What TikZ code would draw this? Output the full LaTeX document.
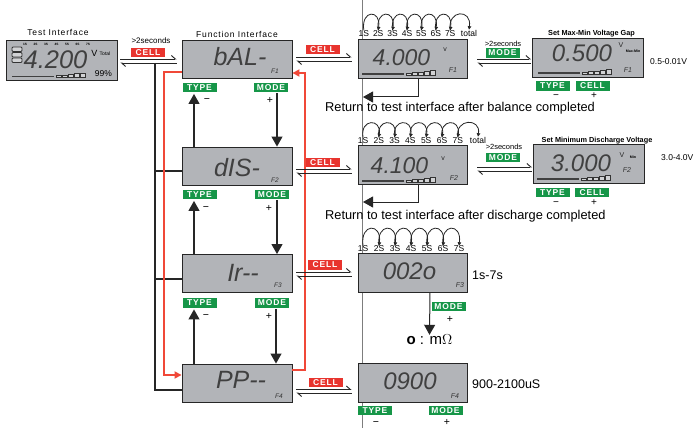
\documentclass[tikz,border=0pt]{standalone}
\usepackage{fontspec}
\setmainfont{Liberation Sans}
\newfontfamily\spaced[LetterSpace=10]{Liberation Sans}
\usetikzlibrary{arrows.meta,calc}
\definecolor{lcdgray}{RGB}{178,180,184}
\definecolor{cellred}{RGB}{232,52,46}
\definecolor{tagGreen}{RGB}{22,150,72}
\definecolor{redline}{RGB}{240,72,56}
\definecolor{foldgray}{RGB}{125,125,125}
\tikzset{
  lcd/.style={draw=black!85, line width=0.9pt, fill=lcdgray, inner sep=0pt},
  fbox/.style={lcd, minimum width=110pt, minimum height=38pt},
  mbox/.style={lcd, minimum width=109pt, minimum height=39pt},
  rbox/.style={lcd, minimum width=111pt, minimum height=39pt},
  redtag/.style={fill=cellred, text=white, font=\spaced\bfseries\fontsize{8.5}{8.5}\selectfont, inner sep=0pt, minimum width=34pt, minimum height=9.5pt},
  greentag/.style={redtag, fill=tagGreen},
  digits/.style={font=\itshape\fontsize{25}{25}\selectfont, text=black!75, inner sep=0pt},
  flabel/.style={font=\itshape\fontsize{6.5}{6.5}\selectfont, inner sep=0pt, text=black!80},
  small/.style={font=\fontsize{7}{7}\selectfont, inner sep=0pt, text=black!85},
  sign/.style={font=\fontsize{10.5}{10.5}\selectfont, inner sep=0pt},
  rsign/.style={font=\fontsize{10}{10}\selectfont, inner sep=0pt},
  cnt/.style={font=\fontsize{8.5}{8.5}\selectfont, inner sep=0pt},
  info/.style={font=\fontsize{8.5}{8.5}\selectfont, inner sep=0pt, anchor=west},
  title/.style={font=\spaced\fontsize{8.5}{8.5}\selectfont, inner sep=0pt},
  settitle/.style={font=\bfseries\fontsize{7.3}{7.3}\selectfont, inner sep=0pt},
  blk/.style={draw=black!85, line width=1.1pt},
  redl/.style={draw=redline, line width=1.7pt},
  bigtip/.style={-{Triangle[length=10pt,width=11pt]}},
  redtip/.style={-{Triangle[length=7pt,width=7pt]}},
  harp/.style={draw=black!85, line width=0.9pt, -{Straight Barb[left,length=4pt,width=7pt]}},
  arc/.style={draw=black!85, line width=0.8pt, -{Triangle[length=3.5pt,width=3.5pt]}},
  bars/.pic={
    \fill[black!75] (0,-0.4) rectangle (42,-1.8);
    \foreach \i/\h in {0/2,1/2.6,2/3.2,3/3.8,4/4.4}
      \draw[black!80, line width=0.5pt, fill=lcdgray!60] ({44+\i*6},0) rectangle ({49+\i*6},-\h);
  }
}
\begin{document}
\begin{tikzpicture}[x=1pt,y=-1pt]
\useasboundingbox (0,0) rectangle (694,428);
\fill[white] (0,0) rectangle (694,428);
% book fold
\draw[foldgray, line width=0.7pt] (362,0) -- (362,428);

% ---------- nodes: boxes ----------
\node[lcd, minimum width=111pt, minimum height=40pt] (test) at (61.5,60) {};
\node[fbox] (f1) at (237,59) {};
\node[fbox] (f2) at (237,166) {};
\node[fbox] (f3) at (237,273.5) {};
\node[fbox] (f4) at (237,383) {};
\node[mbox] (m1) at (412.5,58.5) {};
\node[mbox] (m2) at (412.5,165) {};
\node[mbox] (m3) at (412.5,272.5) {};
\node[mbox] (m4) at (412.5,382.5) {};
\node[rbox] (r1) at (588,57.5) {};
\node[rbox] (r2) at (589,164) {};

% ---------- lines ----------
\coordinate (bjoin) at (155,63);
\draw[blk] (bjoin) -- (155,390) -- (f4.west |- 0,390);
\draw[blk] (155,171) -- (f2.west |- 0,171);
\draw[blk] (155,279) -- (f3.west |- 0,279);
\draw[redl, redtip] (f1.west |- 0,72) -- (164,72) -- (164,375) -- (f4.west |- 0,375);
\draw[redl, redtip] (f4.east |- 0,370) -- (305,370) -- (305,73) -- (f1.east |- 0,73);

% harpoon pairs
\draw[harp, shorten <=3pt, shorten >=5pt] (test.east |- 0,59) -- (f1.west |- 0,59);
\draw[harp, shorten <=5pt, shorten >=3pt] (f1.west |- 0,63) -- (test.east |- 0,63);
\draw[harp, shorten <=4pt, shorten >=6pt] (f1.east |- 0,57) -- (m1.west |- 0,57);
\draw[harp, shorten <=6pt, shorten >=4pt] (m1.west |- 0,61) -- (f1.east |- 0,61);
\draw[harp, shorten <=4pt, shorten >=6pt] (f2.east |- 0,169) -- (m2.west |- 0,169);
\draw[harp, shorten <=6pt, shorten >=4pt] (m2.west |- 0,173) -- (f2.east |- 0,173);
\draw[harp, shorten <=4pt, shorten >=6pt] (f3.east |- 0,272) -- (m3.west |- 0,272);
\draw[harp, shorten <=6pt, shorten >=4pt] (m3.west |- 0,276) -- (f3.east |- 0,276);
\draw[harp, shorten <=4pt, shorten >=6pt] (f4.east |- 0,389.5) -- (m4.west |- 0,389.5);
\draw[harp, shorten <=6pt, shorten >=4pt] (m4.west |- 0,393) -- (f4.east |- 0,393);
\draw[harp, shorten <=10pt, shorten >=1pt] (m1.east |- 0,59) -- (r1.west |- 0,59);
\draw[harp, shorten <=1pt, shorten >=10pt] (r1.west |- 0,63) -- (m1.east |- 0,63);
\draw[harp, shorten <=10pt, shorten >=1pt] (m2.east |- 0,167) -- (r2.west |- 0,167);
\draw[harp, shorten <=1pt, shorten >=10pt] (r2.west |- 0,171) -- (m2.east |- 0,171);

% ---------- test interface ----------
\node[title] (ttest) at (58,32.5) {Test Interface};
\node[digits, font=\itshape\fontsize{25.5}{25.5}\selectfont] (testd) at (55.5,59.5) {4.200};
\node[font=\fontsize{9}{9}\selectfont, inner sep=0pt] (tv) at (94.5,53) {V};
\node[font=\fontsize{5}{5}\selectfont, inner sep=0pt] (ttot) at (105,53.5) {Total};
\node[font=\fontsize{8.5}{8.5}\selectfont, inner sep=0pt] (tpct) at (103.5,74) {99\%};
\foreach \y in {47,52.5,58}
  \draw[black!80, line width=0.8pt, fill=lcdgray!60, rounded corners=1pt] (12,\y) rectangle (22,\y+4.5);
\foreach \n in {1,...,7}
  \node[font=\bfseries\fontsize{3.2}{3.2}\selectfont, inner sep=0pt] at ({25+(\n-1)*10.5},44.5) {\n S};
\pic at (12,77.5) {bars};
\node[font=\fontsize{8}{8}\selectfont, inner sep=0pt] (sec1) at (151,41) {>2seconds};
\node[redtag] (cell0) at (148,52.5) {CELL};

% ---------- function interface ----------
\node[title] (tfunc) at (237,34) {Function Interface};
\node[digits] (d1) at (240,57) {bAL-};
\node[flabel] (F1) at (275,71) {F1};
\node[digits] (d2) at (237,168) {dIS-};
\node[flabel] (F2) at (275,180) {F2};
\node[digits] (d3) at (243,272.5) {Ir-{}-};
\node[digits] (d4) at (241,380) {PP-{}-};
\node[flabel] (F3) at (278,285) {F3};
\node[flabel] (F4) at (279,396) {F4};

\node[greentag] (type1) at (199.5,87.5) {TYPE};
\node[greentag] (mode1) at (271,87.5) {MODE};
\node[greentag] (type2) at (199.5,194.5) {TYPE};
\node[greentag] (mode2) at (272,194.5) {MODE};
\node[greentag] (type3) at (199.5,303) {TYPE};
\node[greentag] (mode3) at (272,303) {MODE};
\node[sign] (mi1) at (207,100.5) {−};
\node[sign] (pl1) at (270,100.5) {+};
\node[sign] (mi2) at (206,209) {−};
\node[sign] (pl2) at (269,208.5) {+};
\node[sign] (mi3) at (206,317) {−};
\node[sign] (pl3) at (269,316.5) {+};

\draw[blk, bigtip, shorten >=1.5pt] (f2.north -| 194,0) -- (type1.south -| 194,0);
\draw[blk, bigtip, shorten <=1pt] (mode1.south -| 277,0) -- (f2.north -| 277,0);
\draw[blk, bigtip, shorten >=1.5pt] (f3.north -| 194,0) -- (type2.south -| 194,0);
\draw[blk, bigtip, shorten <=1pt] (mode2.south -| 277,0) -- (f3.north -| 277,0);
\draw[blk, bigtip, shorten >=1.5pt] (f4.north -| 194,0) -- (type3.south -| 194,0);
\draw[blk, bigtip, shorten <=1pt] (mode3.south -| 276,0) -- (f4.north -| 276,0);

\node[redtag] (cell1) at (322.5,49.5) {CELL};
\node[redtag] (cell2) at (322.5,162.5) {CELL};
\node[redtag] (cell3) at (325,265) {CELL};
\node[redtag] (cell4) at (325.5,382.5) {CELL};

% ---------- middle column ----------
\node[digits, font=\itshape\fontsize{23}{23}\selectfont] (md1) at (401.5,57.5) {4.000};
\node[small] (mv1) at (445,50) {v};
\node[flabel, font=\itshape\fontsize{7}{7}\selectfont] (mF1) at (453,70) {F1};
\pic at (362,75) {bars};
\node[digits, font=\itshape\fontsize{23}{23}\selectfont] (md2) at (399.5,166) {4.100};
\node[small] (mv2) at (443,159) {v};
\node[flabel, font=\itshape\fontsize{7}{7}\selectfont] (mF2) at (454,178) {F2};
\pic at (362,182) {bars};
\node[digits, font=\itshape\fontsize{24}{24}\selectfont] (md3) at (409.5,271.5) {002o};
\node[flabel, font=\itshape\fontsize{7}{7}\selectfont] (mF3) at (460,285) {F3};
\node[digits, font=\itshape\fontsize{24}{24}\selectfont] (md4) at (410,381.5) {0900};
\node[flabel, font=\itshape\fontsize{7}{7}\selectfont] (mF4) at (455,396) {F4};

% counters row 1
\foreach \n in {1,...,7}
  \node[cnt] (a\n) at ({363.8+(\n-1)*14.4},33.5) {\n S};
\node[cnt] (a8) at (469,33) {total};
\foreach \n [count=\k from 2] in {1,...,7}
  \draw[arc] (a\n.north) .. controls +(-3,-21) and +(3,-21) .. (a\k.north);
% counters row 2
\foreach \n in {1,...,7}
  \node[cnt] (b\n) at ({363+(\n-1)*15.8},140.5) {\n S};
\node[cnt] (b8) at (478,140) {total};
\foreach \n [count=\k from 2] in {1,...,7}
  \draw[arc] (b\n.north) .. controls +(-3,-19) and +(3,-19) .. (b\k.north);
% counters row 3
\foreach \n in {1,...,7}
  \node[cnt] (c\n) at ({363+(\n-1)*16},249) {\n S};
\foreach \n [count=\k from 2] in {1,...,6}
  \draw[arc] (c\n.north) .. controls +(-3,-23) and +(3,-23) .. (c\k.north);

% return arrows
\coordinate (ret1) at (363,97);
\coordinate (ret2) at (363,202);
\draw[blk, line width=1pt, bigtip] (m1.south -| 418,0) -- (418,97) -- (ret1);
\draw[blk, line width=1pt, bigtip] (m2.south -| 418,0) -- (418,202) -- (ret2);
\node[font=\fontsize{12.8}{12.8}\selectfont, inner sep=0pt, anchor=west] (rt1) at (325,108.5) {Return to test interface after balance completed};
\node[font=\fontsize{12.8}{12.8}\selectfont, inner sep=0pt, anchor=west] (rt2) at (325,216) {Return to test interface after discharge completed};

% IR row extras
\node[font=\fontsize{12.5}{12.5}\selectfont, inner sep=0pt, anchor=west] (rng3) at (472,275) {1s-7s};
\node[greentag] (mode4) at (448.5,306.5) {MODE};
\node[sign] (pl4) at (450,319.5) {+};
\node[font=\fontsize{15}{15}\selectfont, inner sep=0pt] (ohm) at (429.5,340) {\textbf{o} : m$\Omega$};
\draw[blk, line width=1pt, bigtip] (m3.south -| 430,0) -- (ohm.north);

% PP row extras
\node[font=\fontsize{12.5}{12.5}\selectfont, inner sep=0pt, anchor=west] (rng4) at (472,384) {900-2100uS};
\node[greentag] (type4) at (375,410.5) {TYPE};
\node[greentag] (mode5) at (445.5,410.5) {MODE};
\node[sign] (mi4) at (376,423.5) {−};
\node[sign] (pl5) at (447,422.5) {+};

% ---------- right column ----------
\node[font=\fontsize{7.5}{7.5}\selectfont, inner sep=0pt] (sec2) at (503,44) {>2seconds};
\node[greentag] (mode6) at (502.5,53) {MODE};
\node[font=\fontsize{7.5}{7.5}\selectfont, inner sep=0pt] (sec3) at (504,147) {>2seconds};
\node[greentag] (mode7) at (503,157.5) {MODE};

\node[settitle] (st1) at (591.5,34) {Set Max-Min Voltage Gap};
\node[digits, font=\itshape\fontsize{24}{24}\selectfont] (rd1) at (582,53.5) {0.500};
\node[small] (rv1) at (621,45) {V};
\node[font=\bfseries\fontsize{3.6}{3.6}\selectfont, inner sep=0pt] (rmm) at (633,51) {Max-Min};
\node[flabel, font=\itshape\fontsize{7}{7}\selectfont] (rF1) at (628,70.5) {F1};
\pic at (538,74) {bars};
\node[info] (rng1) at (650,62) {0.5-0.01V};
\node[greentag] (type5) at (552.5,86) {TYPE};
\node[greentag] (cell5) at (592.5,86) {CELL};
\node[rsign] (mi5) at (556,96.5) {−};
\node[rsign] (pl6) at (594,95.5) {+};

\node[settitle] (st2) at (597,141) {Set Minimum Discharge Voltage};
\node[digits, font=\itshape\fontsize{24}{24}\selectfont] (rd2) at (581,163) {3.000};
\node[small] (rv2) at (622,155) {V};
\node[font=\bfseries\fontsize{3.6}{3.6}\selectfont, inner sep=0pt] (rmin) at (633,157) {Min};
\node[flabel, font=\itshape\fontsize{7}{7}\selectfont] (rF2) at (627,170) {F2};
\pic at (537,180) {bars};
\node[info] (rng2) at (661,158) {3.0-4.0V};
\node[greentag] (type6) at (552.5,192.5) {TYPE};
\node[greentag] (cell6) at (592,192.5) {CELL};
\node[rsign] (mi6) at (556,203.5) {−};
\node[rsign] (pl7) at (594,202.5) {+};
\end{tikzpicture}
\end{document}
